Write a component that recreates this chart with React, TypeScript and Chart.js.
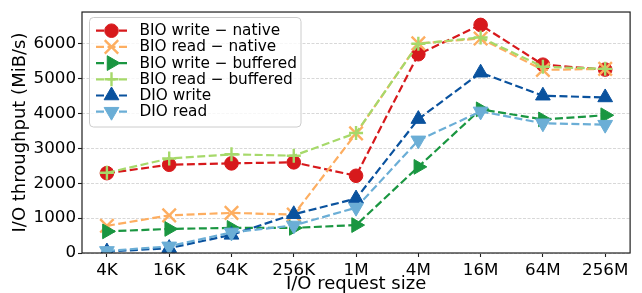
import React, { useEffect, useRef } from 'react';
import { Chart, registerables } from 'chart.js';

Chart.register(...registerables);

const categories = ['4K', '16K', '64K', '256K', '1M', '4M', '16M', '64M', '256M'];
const yTicks = [0, 1000, 2000, 3000, 4000, 5000, 6000];

const bioWriteNative = [2290, 2530, 2570, 2600, 2214, 5700, 6540, 5400, 5260];
const bioReadNative = [780, 1080, 1150, 1100, 3430, 6010, 6150, 5250, 5280];
const bioWriteBuffered = [620, 690, 720, 720, 800, 2470, 4120, 3830, 3950];
const bioReadBuffered = [2300, 2710, 2830, 2790, 3440, 6000, 6180, 5340, 5280];
const dioWrite = [40, 140, 520, 1110, 1560, 3840, 5170, 4510, 4460];
const dioRead = [60, 190, 590, 790, 1300, 3230, 4060, 3720, 3680];

const seriesLabels = [
  'BIO write \u2212 native',
  'BIO read \u2212 native',
  'BIO write \u2212 buffered',
  'BIO read \u2212 buffered',
  'DIO write',
  'DIO read',
];
const seriesValues = [bioWriteNative, bioReadNative, bioWriteBuffered, bioReadBuffered, dioWrite, dioRead];
const seriesColors = ['#d7191c', '#fdae61', '#1a9641', '#a6d96a', '#0a529e', '#6baed6'];
const seriesMarkers = [
  { style: 'circle', radius: 6.8, rotation: 0, bw: 1 },
  { style: 'crossRot', radius: 9.5, rotation: 0, bw: 2.4 },
  { style: 'triangle', radius: 8.5, rotation: 90, bw: 1 },
  { style: 'cross', radius: 7, rotation: 0, bw: 2.4 },
  { style: 'triangle', radius: 8.5, rotation: 0, bw: 1 },
  { style: 'triangle', radius: 8.5, rotation: 180, bw: 1 },
];

const FONT = "'DejaVu Sans', sans-serif";

function drawMarker(ctx: CanvasRenderingContext2D, style: string, x: number, y: number, r: number, rot: number, color: string, bw: number) {
  ctx.save();
  ctx.translate(x, y);
  ctx.rotate((rot * Math.PI) / 180);
  ctx.fillStyle = color;
  ctx.strokeStyle = color;
  ctx.lineWidth = bw;
  ctx.setLineDash([]);
  ctx.beginPath();
  if (style === 'circle') {
    ctx.arc(0, 0, r, 0, Math.PI * 2);
    ctx.fill();
    ctx.stroke();
  } else if (style === 'triangle') {
    for (let k = 0; k < 3; k++) {
      const a = (k * 2 * Math.PI) / 3;
      const px = Math.sin(a) * r;
      const py = -Math.cos(a) * r;
      if (k === 0) ctx.moveTo(px, py);
      else ctx.lineTo(px, py);
    }
    ctx.closePath();
    ctx.fill();
    ctx.stroke();
  } else if (style === 'cross') {
    ctx.moveTo(-r, 0);
    ctx.lineTo(r, 0);
    ctx.moveTo(0, -r);
    ctx.lineTo(0, r);
    ctx.stroke();
  } else if (style === 'crossRot') {
    const o = Math.cos(Math.PI / 4) * r;
    ctx.moveTo(-o, -o);
    ctx.lineTo(o, o);
    ctx.moveTo(-o, o);
    ctx.lineTo(o, -o);
    ctx.stroke();
  }
  ctx.restore();
}

const framePlugin = {
  id: 'frameAndLegend',
  afterDraw(chart: any) {
    const ctx: CanvasRenderingContext2D = chart.ctx;
    const a = chart.chartArea;
    ctx.save();
    ctx.strokeStyle = '#1e1e1e';
    ctx.lineWidth = 1.2;
    ctx.setLineDash([]);
    ctx.strokeRect(a.left, a.top, a.right - a.left, a.bottom - a.top);

    // legend box
    const bx = 89.5, by = 17.5, bw = 211.5, bh = 109.5, rr = 4;
    ctx.beginPath();
    ctx.moveTo(bx + rr, by);
    ctx.lineTo(bx + bw - rr, by);
    ctx.quadraticCurveTo(bx + bw, by, bx + bw, by + rr);
    ctx.lineTo(bx + bw, by + bh - rr);
    ctx.quadraticCurveTo(bx + bw, by + bh, bx + bw - rr, by + bh);
    ctx.lineTo(bx + rr, by + bh);
    ctx.quadraticCurveTo(bx, by + bh, bx, by + bh - rr);
    ctx.lineTo(bx, by + rr);
    ctx.quadraticCurveTo(bx, by, bx + rr, by);
    ctx.closePath();
    ctx.fillStyle = 'rgba(255,255,255,0.8)';
    ctx.fill();
    ctx.strokeStyle = '#cccccc';
    ctx.lineWidth = 1;
    ctx.stroke();

    ctx.font = `15.3px ${FONT}`;
    ctx.textBaseline = 'middle';
    ctx.textAlign = 'left';
    for (let i = 0; i < seriesLabels.length; i++) {
      const y = 30.7 + i * 16.2;
      const c = seriesColors[i];
      ctx.strokeStyle = c;
      ctx.lineWidth = 2.2;
      ctx.setLineDash([8, 3.5]);
      ctx.beginPath();
      ctx.moveTo(96, y);
      ctx.lineTo(127, y);
      ctx.stroke();
      const m = seriesMarkers[i];
      drawMarker(ctx, m.style, 111.5, y, m.radius, m.rotation, c, m.bw);
      ctx.fillStyle = '#000';
      ctx.fillText(seriesLabels[i], 139.5, y + 0.5);
    }
    ctx.restore();
  },
};

export default function App() {
  const ref = useRef<HTMLCanvasElement | null>(null);

  useEffect(() => {
    document.body.style.margin = '0';
    const canvas = ref.current;
    if (!canvas) return;
    const datasets = seriesValues.map((vals, i) => ({
      label: seriesLabels[i],
      data: vals.map((v, k) => ({ x: k, y: v })),
      borderColor: seriesColors[i],
      backgroundColor: seriesColors[i],
      pointBackgroundColor: seriesColors[i],
      pointBorderColor: seriesColors[i],
      borderWidth: 2.2,
      borderDash: [8, 3.5],
      pointStyle: seriesMarkers[i].style,
      pointRadius: seriesMarkers[i].radius,
      pointRotation: seriesMarkers[i].rotation,
      pointBorderWidth: seriesMarkers[i].bw,
      pointHoverRadius: seriesMarkers[i].radius,
      tension: 0,
      fill: false,
      clip: 0,
      order: seriesValues.length - i,
    }));

    const chart = new Chart(canvas, {
      type: 'line',
      data: { datasets } as any,
      options: {
        responsive: false,
        animation: false,
        devicePixelRatio: 1,
        layout: { padding: { top: 11, right: 7, left: 0, bottom: 0 } },
        plugins: { legend: { display: false }, tooltip: { enabled: false } },
        events: [],
        scales: {
          x: {
            type: 'linear',
            min: -0.4,
            max: 8.4,
            afterBuildTicks: (s: any) => {
              s.ticks = categories.map((_, k) => ({ value: k }));
            },
            afterFit: (s: any) => {
              s.height = 40;
            },
            ticks: {
              autoSkip: false,
              maxRotation: 0,
              padding: 3.5,
              color: '#000',
              font: { family: FONT, size: 16.7 },
              callback: (v: any) => categories[v as number] ?? '',
            },
            grid: {
              drawOnChartArea: false,
              drawTicks: true,
              tickLength: 4,
              tickColor: '#1e1e1e',
              tickWidth: 1.1,
            },
            border: { display: false },
            title: {
              display: true,
              text: 'I/O request size',
              color: '#000',
              font: { family: FONT, size: 18, lineHeight: 1.0 },
              padding: { top: 0, bottom: 0 },
            },
          },
          y: {
            type: 'linear',
            min: 0,
            max: 6910,
            afterBuildTicks: (s: any) => {
              s.ticks = yTicks.map((v) => ({ value: v }));
            },
            afterFit: (s: any) => {
              s.width = 82;
            },
            ticks: {
              padding: 2,
              color: '#000',
              font: { family: FONT, size: 16.7 },
              callback: (v: any) => String(v),
            },
            grid: {
              color: '#d8d8d8',
              lineWidth: 1,
              drawTicks: true,
              tickLength: 4,
              tickColor: '#1e1e1e',
              tickWidth: 1.1,
            },
            border: { display: false, dash: [3, 1.5] },
            title: {
              display: true,
              text: 'I/O throughput (MiB/s)',
              color: '#000',
              font: { family: FONT, size: 18 },
              padding: { top: 10, bottom: 0 },
            },
          },
        },
      } as any,
      plugins: [framePlugin],
    });
    return () => chart.destroy();
  }, []);

  return (
    <div style={{ width: 642, height: 293 }}>
      <canvas ref={ref} width={642} height={293} style={{ display: 'block', width: 642, height: 293 }} />
    </div>
  );
}
